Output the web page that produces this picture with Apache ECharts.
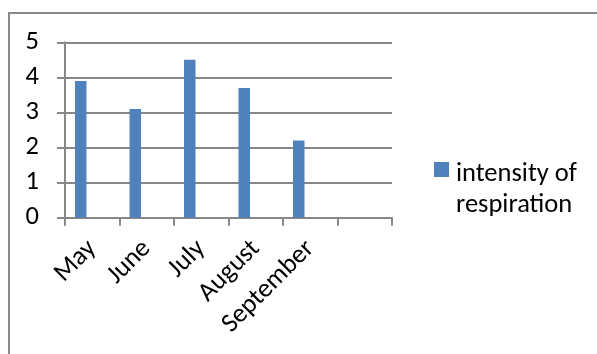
<!DOCTYPE html>
<html>
<head>
<meta charset="utf-8">
<script src="https://cdn.jsdelivr.net/npm/echarts@6/dist/echarts.min.js"></script>
<style>
  html, body { margin: 0; padding: 0; background: #fff; }
  #chart { width: 597px; height: 354px; }
</style>
</head>
<body>
<div id="chart"></div>
<script>
// Monthly respiration intensity
const months = ['May', 'June', 'July', 'August', 'September', ''];
const respiration = [3.9, 3.1, 4.5, 3.7, 2.2, null];
const seriesName = 'intensity of respiration';
const yTicks = { min: 0, max: 5, interval: 1 };

const FONT = 'Carlito, Lato, "Open Sans", sans-serif';
const GRID_GREY = '#878787';

const chart = echarts.init(document.getElementById('chart'), null, { renderer: 'canvas' });

chart.setOption({
  animation: false,
  backgroundColor: '#ffffff',
  textStyle: { fontFamily: FONT },
  grid: { left: 65, right: 205, top: 42.3, bottom: 136.3, containLabel: false },
  xAxis: {
    type: 'category',
    data: months,
    boundaryGap: true,
    axisLine: { show: true, lineStyle: { color: GRID_GREY, width: 2 } },
    axisTick: { show: true, alignWithLabel: false, length: 8, lineStyle: { color: GRID_GREY, width: 2 } },
    axisLabel: { rotate: 45, margin: 27, color: '#000', fontSize: 26.5, fontFamily: FONT, interval: 0 },
    splitLine: { show: false }
  },
  yAxis: {
    type: 'value',
    min: yTicks.min,
    max: yTicks.max,
    interval: yTicks.interval,
    axisLine: { show: true, lineStyle: { color: GRID_GREY, width: 2 } },
    axisTick: { show: true, length: 8, lineStyle: { color: GRID_GREY, width: 2 } },
    axisLabel: { margin: 26, color: '#000', fontSize: 26.5, fontFamily: FONT },
    splitLine: { show: true, lineStyle: { color: GRID_GREY, width: 2 } }
  },
  legend: {
    data: [seriesName],
    orient: 'vertical',
    left: 434,
    top: 118,
    padding: 0,
    itemWidth: 15,
    itemHeight: 15,
    itemGap: 0,
    icon: 'rect',
    // a taller blank first line keeps the marker level with "intensity of"
    formatter: () => '{gap| }\n{t|intensity of}\n{t|respiration}',
    textStyle: {
      color: '#000', fontSize: 26.5, fontFamily: FONT, lineHeight: 31,
      rich: {
        gap: { fontSize: 10, lineHeight: 41 },
        t: { color: '#000', fontSize: 26.5, fontFamily: FONT, lineHeight: 31, padding: [0, 0, 0, 2] }
      }
    }
  },
  series: [
    {
      name: seriesName,
      type: 'bar',
      data: respiration,
      barWidth: 11.5,
      barGap: '0%',
      itemStyle: { color: '#4F81BD' }
    },
    { name: 'blank-a', type: 'bar', data: [], barWidth: 11.5 },
    { name: 'blank-b', type: 'bar', data: [], barWidth: 11.5 }
  ],
  graphic: [
    {
      type: 'rect',
      shape: { x: 9, y: 13, width: 620, height: 380 },
      style: { fill: 'none', stroke: '#8a8a8a', lineWidth: 2 },
      silent: true
    }
  ]
});
</script>
</body>
</html>
